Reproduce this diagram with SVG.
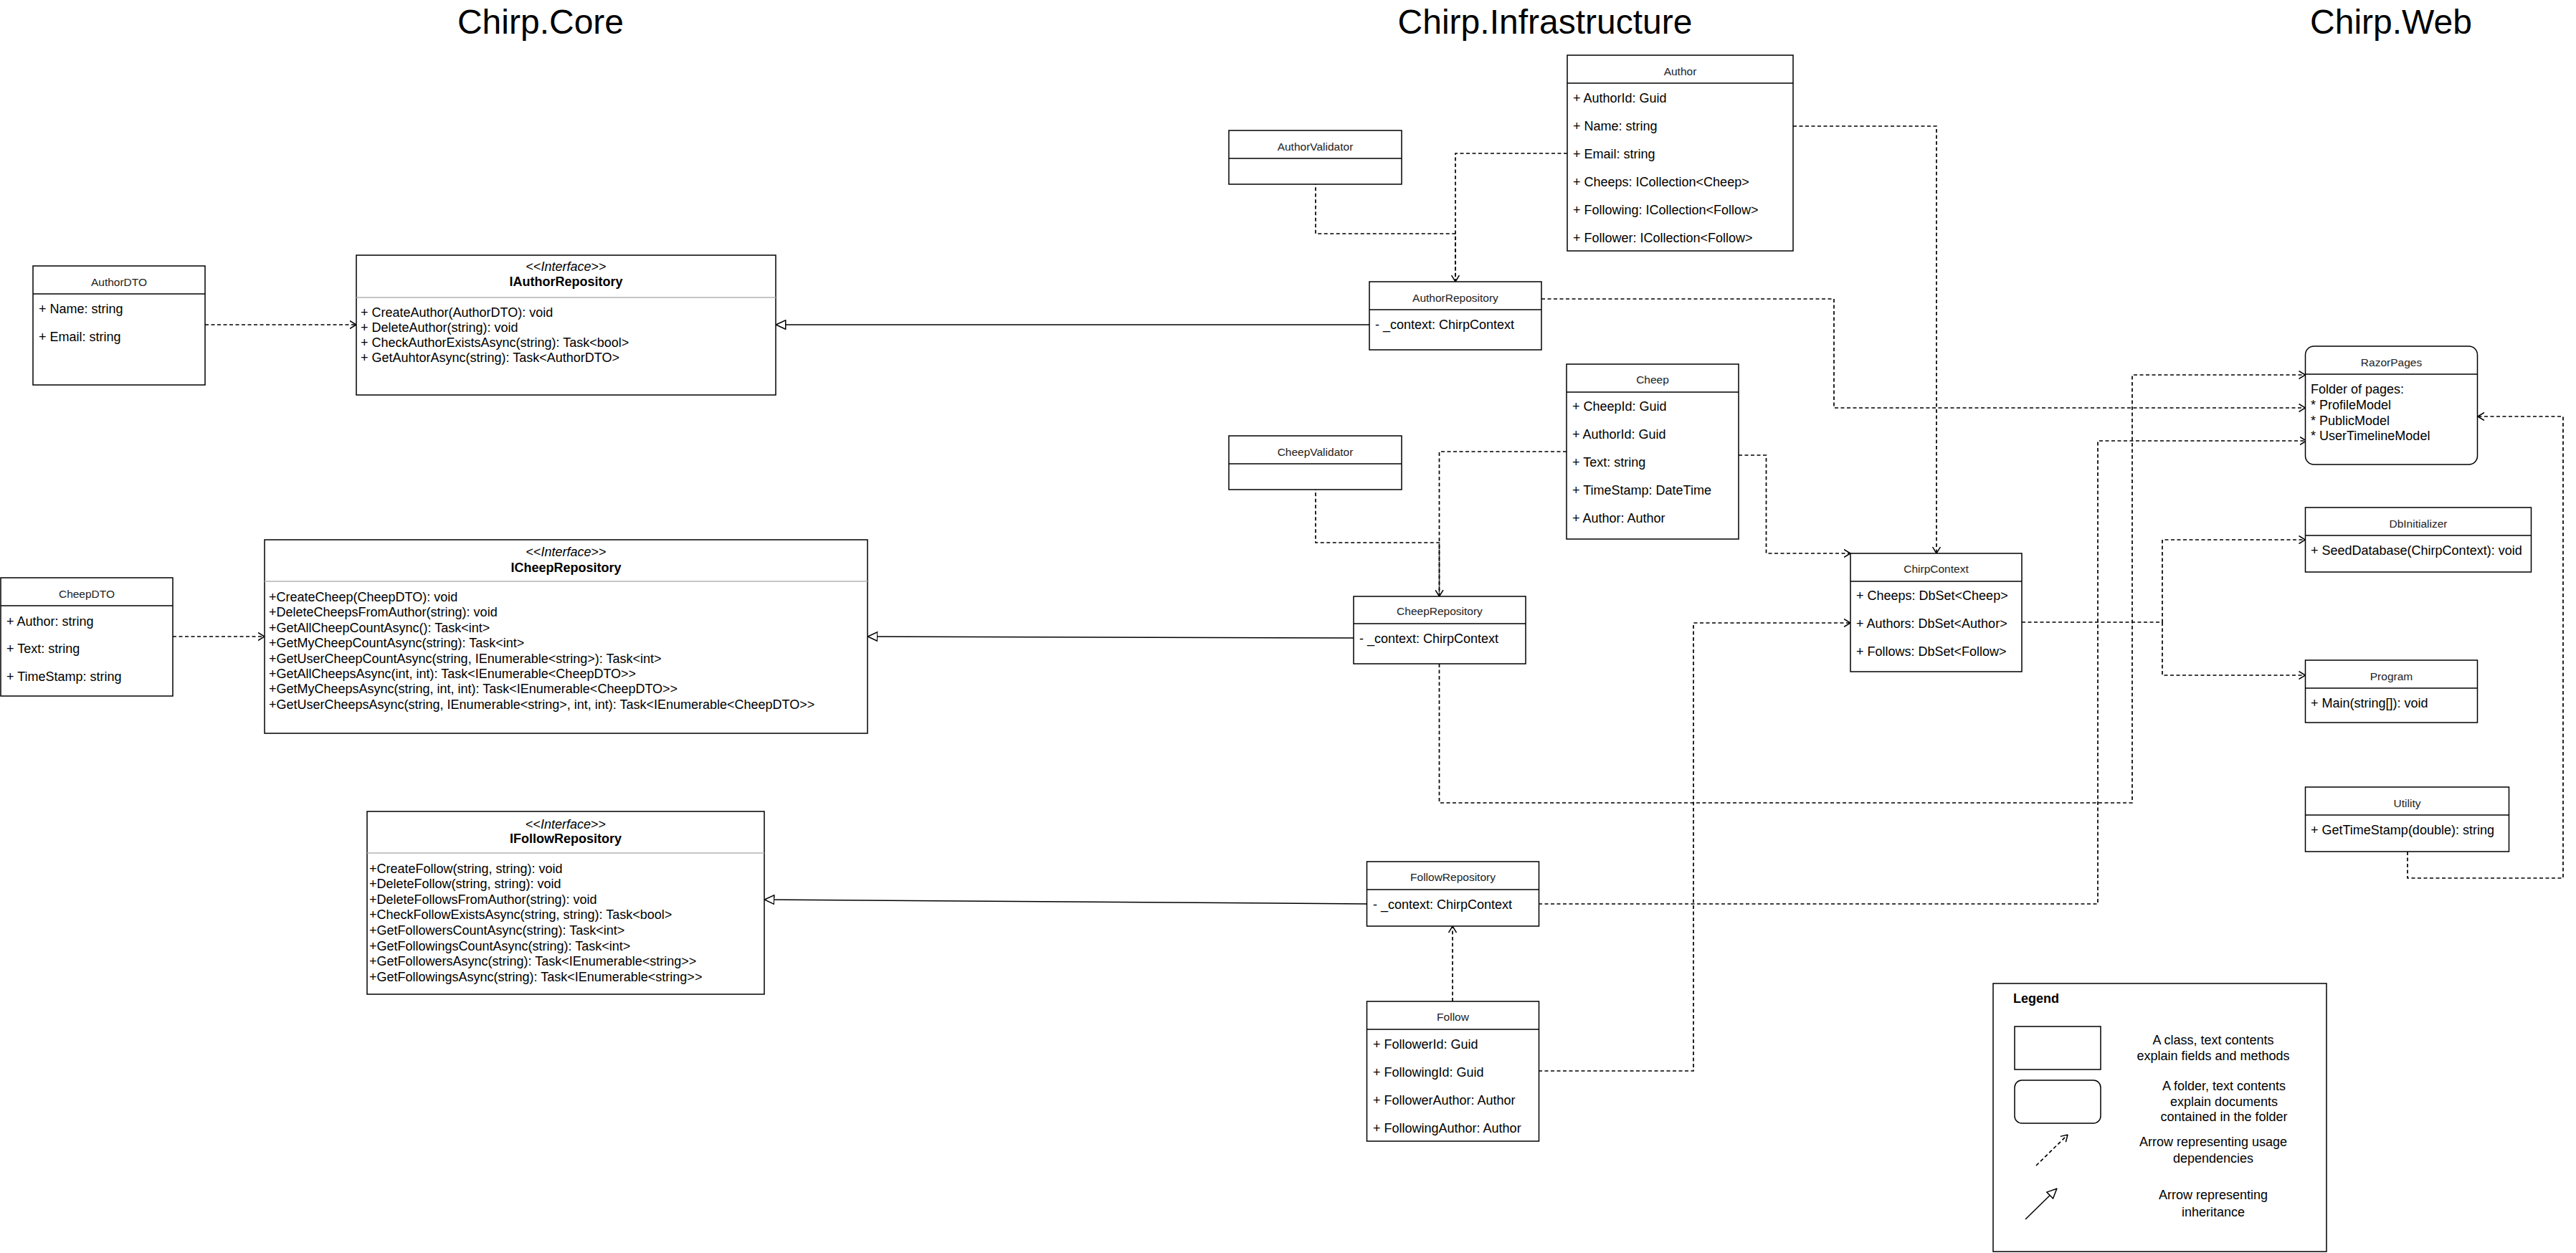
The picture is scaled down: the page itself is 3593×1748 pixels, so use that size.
<svg xmlns="http://www.w3.org/2000/svg" width="3593" height="1748" viewBox="0 0 3593 1748">
<style>
.bg{fill:#fff}
.box{fill:#fff;stroke:#000;stroke-width:1.5}
.sep{stroke:#000;stroke-width:1.5}
.gsep{stroke:#b3b3b3;stroke-width:1.5}
text{font-family:"Liberation Sans",Arial,Helvetica,sans-serif;fill:#000;dominant-baseline:central}
.hd{font-size:48px;text-anchor:middle;dominant-baseline:auto}
.nm{font-size:15.5px;text-anchor:middle;fill:#222}
.at{font-size:18px}
.ifc{font-size:18px;text-anchor:middle}
.b{font-weight:bold}
.lg{font-size:18px;text-anchor:middle}
.dash{fill:none;stroke:#000;stroke-width:1.7;stroke-dasharray:5 3.5}
.dash2{fill:none;stroke:#000;stroke-width:1.7;stroke-dasharray:5 3.5;stroke-dashoffset:4.25}
.solid{fill:none;stroke:#000;stroke-width:1.5}
</style>
<defs>
<marker id="open" viewBox="0 0 10 12" refX="9.5" refY="6" markerWidth="10" markerHeight="12" orient="auto" markerUnits="userSpaceOnUse"><path d="M0.5,0.5 L9.5,6 L0.5,11.5" fill="none" stroke="#000" stroke-width="1.5"/></marker>
<marker id="tri" viewBox="0 0 15 14" refX="14.5" refY="7" markerWidth="15" markerHeight="14" orient="auto" markerUnits="userSpaceOnUse"><path d="M0.75,0.75 L14.25,7 L0.75,13.25Z" fill="#fff" stroke="#000" stroke-width="1.5"/></marker>
</defs>
<rect class="bg" x="0" y="0" width="3593" height="1748"/>

<g id="headings">
<text class="hd" x="754" y="47">Chirp.Core</text>
<text class="hd" x="2155" y="47">Chirp.Infrastructure</text>
<text class="hd" x="3335" y="47">Chirp.Web</text>
</g>

<g id="connectors">
<path class="dash" d="M286,453 H497" marker-end="url(#open)"/>
<path class="dash" d="M241,888 H369" marker-end="url(#open)"/>
<path class="solid" d="M1910,453 L1082,453" marker-end="url(#tri)"/>
<path class="solid" d="M1888,890 L1210,888" marker-end="url(#tri)"/>
<path class="solid" d="M1906.5,1261 L1066,1255" marker-end="url(#tri)"/>
<path class="dash" d="M2186,214 H2030 V393" marker-end="url(#open)"/>
<path class="dash2" d="M1835,257 V326 H2030 V393"/>
<path class="dash" d="M2185,630 H2007.5 V832" marker-end="url(#open)"/>
<path class="dash2" d="M1835,683 V757 H2007.5 V832"/>
<path class="dash" d="M2026,1397 V1292" marker-end="url(#open)"/>
<path class="dash" d="M2501,176 H2701 V772" marker-end="url(#open)"/>
<path class="dash" d="M2425,635 H2463.5 V772 H2581" marker-end="url(#open)"/>
<path class="dash" d="M2146,1494 H2362 V869 H2581" marker-end="url(#open)"/>
<path class="dash" d="M2150,417 H2558 V569 H3215.5" marker-end="url(#open)"/>
<path class="dash" d="M2007.5,926 V1120 H2974 V523 H3215.5" marker-end="url(#open)"/>
<path class="dash" d="M2146,1261 H2926 V615 H3217" marker-end="url(#open)"/>
<path class="dash" d="M2820,868 H3016 V753 H3215.5" marker-end="url(#open)"/>
<path class="dash" d="M3016,868 V942 H3215.5" marker-end="url(#open)"/>
<path class="dash" d="M3358,1188 V1225 H3575 V581 H3456" marker-end="url(#open)"/>
</g>

<g id="AuthorDTO">
<rect class="box" x="46" y="371" width="240" height="166"/>
<line class="sep" x1="46" y1="410" x2="286" y2="410"/>
<text class="nm" x="166" y="393">AuthorDTO</text>
<text class="at" x="54" y="431">+ Name: string</text>
<text class="at" x="54" y="470">+ Email: string</text>
</g>

<g id="IAuthorRepository">
<rect class="box" x="497" y="356" width="585" height="195"/>
<line class="gsep" x1="497" y1="415" x2="1082" y2="415"/>
<text class="ifc" x="789.5" y="372">&lt;&lt;<tspan font-style="italic">Interface</tspan>&gt;&gt;</text>
<text class="ifc b" x="789.5" y="393">IAuthorRepository</text>
<text class="at" x="503" y="436">+ CreateAuthor(AuthorDTO): void</text>
<text class="at" x="503" y="457">+ DeleteAuthor(string): void</text>
<text class="at" x="503" y="478">+ CheckAuthorExistsAsync(string): Task&lt;bool&gt;</text>
<text class="at" x="503" y="499">+ GetAuhtorAsync(string): Task&lt;AuthorDTO&gt;</text>
</g>

<g id="CheepDTO">
<rect class="box" x="1" y="806" width="240" height="165"/>
<line class="sep" x1="1" y1="845" x2="241" y2="845"/>
<text class="nm" x="121" y="828">CheepDTO</text>
<text class="at" x="9" y="867">+ Author: string</text>
<text class="at" x="9" y="905">+ Text: string</text>
<text class="at" x="9" y="944">+ TimeStamp: string</text>
</g>

<g id="ICheepRepository">
<rect class="box" x="369" y="753" width="841" height="270"/>
<line class="gsep" x1="369" y1="811" x2="1210" y2="811"/>
<text class="ifc" x="789.5" y="770">&lt;&lt;<tspan font-style="italic">Interface</tspan>&gt;&gt;</text>
<text class="ifc b" x="789.5" y="792">ICheepRepository</text>
<text class="at" x="375" y="833">+CreateCheep(CheepDTO): void</text>
<text class="at" x="375" y="854.4">+DeleteCheepsFromAuthor(string): void</text>
<text class="at" x="375" y="875.8">+GetAllCheepCountAsync(): Task&lt;int&gt;</text>
<text class="at" x="375" y="897.2">+GetMyCheepCountAsync(string): Task&lt;int&gt;</text>
<text class="at" x="375" y="918.6">+GetUserCheepCountAsync(string, IEnumerable&lt;string&gt;): Task&lt;int&gt;</text>
<text class="at" x="375" y="940">+GetAllCheepsAsync(int, int): Task&lt;IEnumerable&lt;CheepDTO&gt;&gt;</text>
<text class="at" x="375" y="961.4">+GetMyCheepsAsync(string, int, int): Task&lt;IEnumerable&lt;CheepDTO&gt;&gt;</text>
<text class="at" x="375" y="982.8">+GetUserCheepsAsync(string, IEnumerable&lt;string&gt;, int, int): Task&lt;IEnumerable&lt;CheepDTO&gt;&gt;</text>
</g>

<g id="IFollowRepository">
<rect class="box" x="512" y="1132" width="554" height="255"/>
<line class="gsep" x1="512" y1="1190" x2="1066" y2="1190"/>
<text class="ifc" x="789" y="1150">&lt;&lt;<tspan font-style="italic">Interface</tspan>&gt;&gt;</text>
<text class="ifc b" x="789" y="1170">IFollowRepository</text>
<text class="at" x="515" y="1211.7">+CreateFollow(string, string): void</text>
<text class="at" x="515" y="1233.3">+DeleteFollow(string, string): void</text>
<text class="at" x="515" y="1254.8">+DeleteFollowsFromAuthor(string): void</text>
<text class="at" x="515" y="1276.4">+CheckFollowExistsAsync(string, string): Task&lt;bool&gt;</text>
<text class="at" x="515" y="1298">+GetFollowersCountAsync(string): Task&lt;int&gt;</text>
<text class="at" x="515" y="1319.6">+GetFollowingsCountAsync(string): Task&lt;int&gt;</text>
<text class="at" x="515" y="1341.1">+GetFollowersAsync(string): Task&lt;IEnumerable&lt;string&gt;&gt;</text>
<text class="at" x="515" y="1362.7">+GetFollowingsAsync(string): Task&lt;IEnumerable&lt;string&gt;&gt;</text>
</g>

<g id="AuthorValidator">
<rect class="box" x="1714" y="182" width="241" height="75"/>
<line class="sep" x1="1714" y1="221" x2="1955" y2="221"/>
<text class="nm" x="1834.5" y="204">AuthorValidator</text>
</g>

<g id="Author">
<rect class="box" x="2186" y="77" width="315" height="273"/>
<line class="sep" x1="2186" y1="116" x2="2501" y2="116"/>
<text class="nm" x="2343.5" y="99">Author</text>
<text class="at" x="2194" y="137">+ AuthorId: Guid</text>
<text class="at" x="2194" y="176">+ Name: string</text>
<text class="at" x="2194" y="215">+ Email: string</text>
<text class="at" x="2194" y="254">+ Cheeps: ICollection&lt;Cheep&gt;</text>
<text class="at" x="2194" y="293">+ Following: ICollection&lt;Follow&gt;</text>
<text class="at" x="2194" y="332">+ Follower: ICollection&lt;Follow&gt;</text>
</g>

<g id="AuthorRepository">
<rect class="box" x="1910" y="393" width="240" height="95"/>
<line class="sep" x1="1910" y1="432" x2="2150" y2="432"/>
<text class="nm" x="2030" y="415">AuthorRepository</text>
<text class="at" x="1918" y="453">- _context: ChirpContext</text>
</g>

<g id="CheepValidator">
<rect class="box" x="1714" y="608" width="241" height="75"/>
<line class="sep" x1="1714" y1="647" x2="1955" y2="647"/>
<text class="nm" x="1834.5" y="630">CheepValidator</text>
</g>

<g id="Cheep">
<rect class="box" x="2185" y="508" width="240" height="244"/>
<line class="sep" x1="2185" y1="547" x2="2425" y2="547"/>
<text class="nm" x="2305" y="529">Cheep</text>
<text class="at" x="2193" y="567">+ CheepId: Guid</text>
<text class="at" x="2193" y="606">+ AuthorId: Guid</text>
<text class="at" x="2193" y="645">+ Text: string</text>
<text class="at" x="2193" y="684">+ TimeStamp: DateTime</text>
<text class="at" x="2193" y="723">+ Author: Author</text>
</g>

<g id="CheepRepository">
<rect class="box" x="1888" y="832" width="240" height="94"/>
<line class="sep" x1="1888" y1="870" x2="2128" y2="870"/>
<text class="nm" x="2008" y="852.5">CheepRepository</text>
<text class="at" x="1896" y="891">- _context: ChirpContext</text>
</g>

<g id="FollowRepository">
<rect class="box" x="1906.5" y="1202" width="240" height="90"/>
<line class="sep" x1="1906.5" y1="1241" x2="2146.5" y2="1241"/>
<text class="nm" x="2026.5" y="1223">FollowRepository</text>
<text class="at" x="1915" y="1261.5">- _context: ChirpContext</text>
</g>

<g id="Follow">
<rect class="box" x="1906.5" y="1397" width="240" height="195"/>
<line class="sep" x1="1906.5" y1="1436" x2="2146.5" y2="1436"/>
<text class="nm" x="2026.5" y="1418">Follow</text>
<text class="at" x="1915" y="1457">+ FollowerId: Guid</text>
<text class="at" x="1915" y="1496">+ FollowingId: Guid</text>
<text class="at" x="1915" y="1535">+ FollowerAuthor: Author</text>
<text class="at" x="1915" y="1574">+ FollowingAuthor: Author</text>
</g>

<g id="ChirpContext">
<rect class="box" x="2581" y="772" width="239" height="165"/>
<line class="sep" x1="2581" y1="811" x2="2820" y2="811"/>
<text class="nm" x="2700.5" y="793">ChirpContext</text>
<text class="at" x="2589" y="831">+ Cheeps: DbSet&lt;Cheep&gt;</text>
<text class="at" x="2589" y="870">+ Authors: DbSet&lt;Author&gt;</text>
<text class="at" x="2589" y="909">+ Follows: DbSet&lt;Follow&gt;</text>
</g>

<g id="RazorPages">
<rect class="box" x="3215.5" y="483" width="240" height="165" rx="12" ry="12"/>
<line class="sep" x1="3215.5" y1="522" x2="3455.5" y2="522"/>
<text class="nm" x="3335.5" y="505">RazorPages</text>
<text class="at" x="3223" y="543">Folder of pages:</text>
<text class="at" x="3223" y="565">* ProfileModel</text>
<text class="at" x="3223" y="587">* PublicModel</text>
<text class="at" x="3223" y="608">* UserTimelineModel</text>
</g>

<g id="DbInitializer">
<rect class="box" x="3215.5" y="708" width="315" height="90"/>
<line class="sep" x1="3215.5" y1="747" x2="3530.5" y2="747"/>
<text class="nm" x="3373" y="730">DbInitializer</text>
<text class="at" x="3223" y="768">+ SeedDatabase(ChirpContext): void</text>
</g>

<g id="Program">
<rect class="box" x="3215.5" y="921" width="240" height="87"/>
<line class="sep" x1="3215.5" y1="960" x2="3455.5" y2="960"/>
<text class="nm" x="3335.5" y="943">Program</text>
<text class="at" x="3223" y="981">+ Main(string[]): void</text>
</g>

<g id="Utility">
<rect class="box" x="3215.5" y="1098" width="284" height="90"/>
<line class="sep" x1="3215.5" y1="1137" x2="3499.5" y2="1137"/>
<text class="nm" x="3357.5" y="1120">Utility</text>
<text class="at" x="3223" y="1158">+ GetTimeStamp(double): string</text>
</g>

<g id="Legend">
<rect class="box" x="2780" y="1372" width="465" height="374"/>
<text class="at b" x="2808" y="1393">Legend</text>
<rect class="box" x="2810" y="1432" width="120" height="60"/>
<rect class="box" x="2810" y="1507" width="120" height="60" rx="10" ry="10"/>
<text class="lg" x="3087" y="1451">A class, text contents</text>
<text class="lg" x="3087" y="1473">explain fields and methods</text>
<text class="lg" x="3102" y="1515">A folder, text contents</text>
<text class="lg" x="3102" y="1536.5">explain documents</text>
<text class="lg" x="3102" y="1558">contained in the folder</text>
<path class="dash" d="M2840,1626 L2884,1583" marker-end="url(#open)"/>
<text class="lg" x="3087" y="1593">Arrow representing usage</text>
<text class="lg" x="3087" y="1616">dependencies</text>
<path class="solid" d="M2825,1701 L2869,1658" marker-end="url(#tri)"/>
<text class="lg" x="3087" y="1667">Arrow representing</text>
<text class="lg" x="3087" y="1691">inheritance</text>
</g>
</svg>
